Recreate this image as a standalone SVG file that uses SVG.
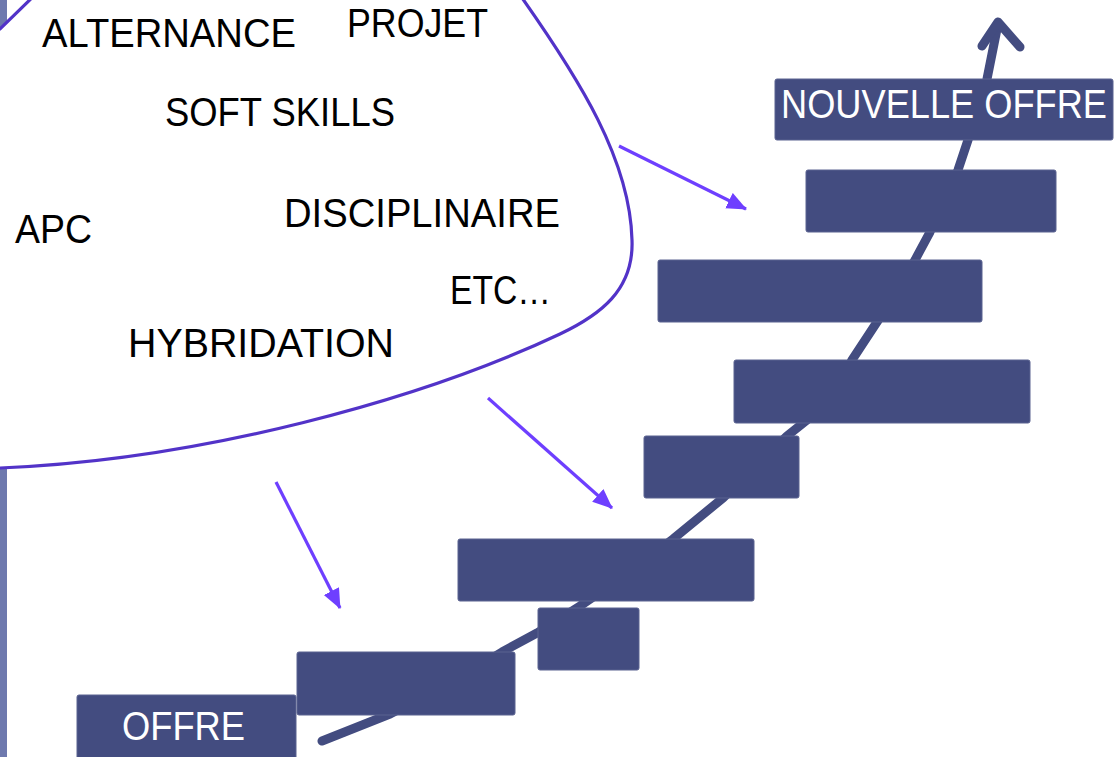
<svg xmlns="http://www.w3.org/2000/svg" width="1114" height="757" viewBox="0 0 1114 757">
  <defs>
    <style>
      .t { font-family: "Liberation Sans", Arial, sans-serif; font-size: 41px; fill: #000; }
      .w { font-family: "Liberation Sans", Arial, sans-serif; font-size: 41px; fill: #fff; }
      .box { fill: #434c80; stroke: #5a6290; stroke-width: 1; }
      .pa { stroke: #6e3fff; stroke-width: 3.2; fill: none; marker-end: url(#ah); }
      .stair { stroke: #434c80; stroke-width: 9; fill: none; stroke-linecap: round; stroke-linejoin: round; }
    </style>
    <marker id="ah" markerUnits="userSpaceOnUse" markerWidth="20" markerHeight="18" refX="19" refY="8.5" orient="auto" viewBox="0 0 20 18">
      <path d="M0,0 L20,8.5 L0,17 Z" fill="#6e3fff"/>
    </marker>
  </defs>
  <rect x="0" y="0" width="1114" height="757" fill="#ffffff"/>
  <rect id="left-strip" x="0" y="0" width="7" height="757" fill="#6e79ae"/>

  <g id="cloud">
    <path d="M 520,-5 C 580,80 630,160 632,240 C 634,290 600,315 560,334 C 420,400 200,460 0,468 L -60,468 L -60,60 L 0,29 L 42,-12 Z" fill="#ffffff" stroke="#5233c8" stroke-width="3.2"/>
    <text class="t" x="42" y="47" textLength="254" lengthAdjust="spacingAndGlyphs">ALTERNANCE</text>
    <text class="t" x="347" y="37" textLength="141" lengthAdjust="spacingAndGlyphs">PROJET</text>
    <text class="t" x="165" y="126" textLength="230" lengthAdjust="spacingAndGlyphs">SOFT SKILLS</text>
    <text class="t" x="15" y="243" textLength="77" lengthAdjust="spacingAndGlyphs">APC</text>
    <text class="t" x="284" y="227" textLength="276" lengthAdjust="spacingAndGlyphs">DISCIPLINAIRE</text>
    <text class="t" x="450" y="304" textLength="101" lengthAdjust="spacingAndGlyphs">ETC…</text>
    <text class="t" x="128" y="357" textLength="266" lengthAdjust="spacingAndGlyphs">HYBRIDATION</text>
  </g>

  <g id="connectors">
    <line class="pa" x1="619" y1="146" x2="746" y2="209"/>
    <line class="pa" x1="488" y1="398" x2="612" y2="508"/>
    <line class="pa" x1="276" y1="482" x2="340" y2="608"/>
    <path class="stair" d="M 322,741 L 390,714 L 450,683 L 502,652 L 537,633 L 580,606 L 625,575 L 673,539 L 723,498 L 755,467 L 787,436 L 807,420 L 840,385 L 852,360 L 877,322 L 900,285 L 915,260 L 930,232 L 958,170 L 968,140 L 987,79 L 998,24"/>
    <path class="stair" d="M 982,46 L 998,22 L 1020,47"/>
  </g>

  <g id="step-offre"><rect class="box" x="77" y="695" width="219" height="66" rx="2"/><text class="w" x="122" y="740" textLength="123" lengthAdjust="spacingAndGlyphs">OFFRE</text></g>
  <g id="step-2"><rect class="box" x="297" y="652" width="218" height="63" rx="2"/></g>
  <g id="step-3"><rect class="box" x="538" y="608" width="101" height="62" rx="2"/></g>
  <g id="step-4"><rect class="box" x="458" y="539" width="296" height="62" rx="2"/></g>
  <g id="step-5"><rect class="box" x="644" y="436" width="155" height="62" rx="2"/></g>
  <g id="step-6"><rect class="box" x="734" y="360" width="296" height="63" rx="2"/></g>
  <g id="step-7"><rect class="box" x="658" y="260" width="324" height="62" rx="2"/></g>
  <g id="step-8"><rect class="box" x="806" y="170" width="250" height="62" rx="2"/></g>
  <g id="step-nouvelle-offre"><rect class="box" x="775" y="79" width="338" height="61" rx="2"/><text class="w" transform="translate(781,118) scale(1,1.15)" x="0" y="0" style="font-size:36px" textLength="326" lengthAdjust="spacingAndGlyphs">NOUVELLE OFFRE</text></g>
</svg>
